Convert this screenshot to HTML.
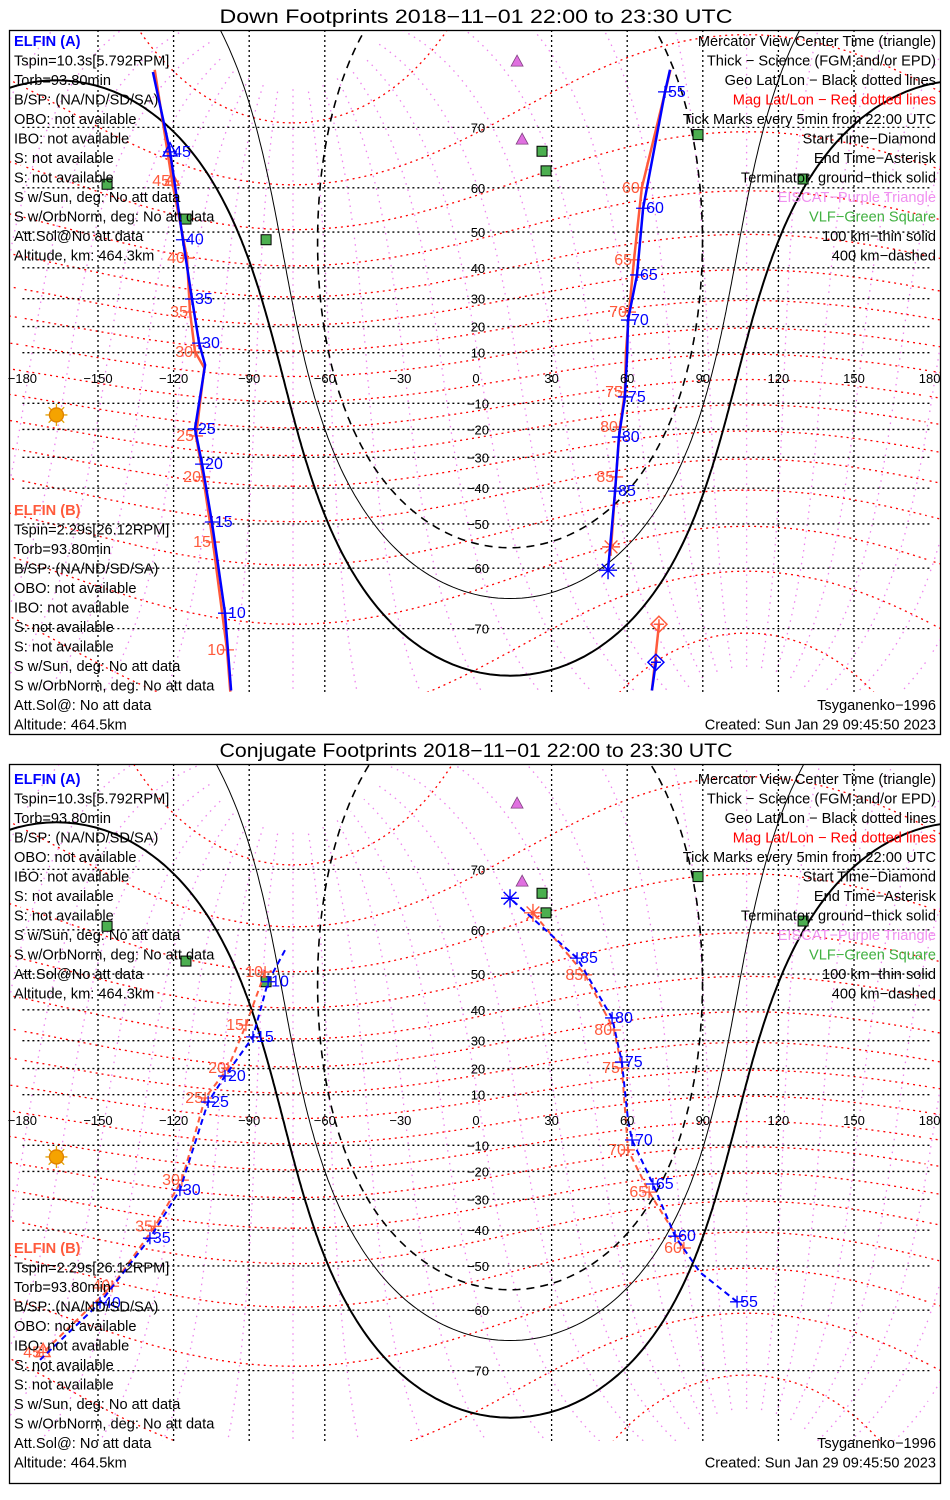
<!DOCTYPE html>
<html><head><meta charset="utf-8"><title>ELFIN Footprints</title>
<style>
html,body{margin:0;padding:0;background:#fff;overflow:hidden;width:950px;height:1500px;}
svg{display:block;font-family:"Liberation Sans",sans-serif;}
</style></head>
<body>
<svg id="chart" xmlns="http://www.w3.org/2000/svg" width="950" height="1500" viewBox="0 0 950 1500">
<defs>
<clipPath id="clip1"><rect x="10" y="31" width="930" height="661"/></clipPath>
<clipPath id="clip2"><rect x="10" y="765" width="930" height="676"/></clipPath>
</defs>
<rect x="0" y="0" width="950" height="1500" fill="#fff"/>
</svg>
<script>
// ---------- data ----------
const lonTicks = [-180,-150,-120,-90,-60,-30,0,30,60,90,120,150,180];
const lonGridLines = [-150,-120,-90,-60,30,60,90,120,150];
const latTicks = [70,60,50,40,30,20,10,-10,-20,-30,-40,-50,-60,-70];
const subSolarLon = -166.5;
const subSolarLat = -14.5;
const terminatorRadii = [90, 80, 70.2];   // ground, 100 km, 400 km
const magPoleLat = 80.6;
const magPoleLon = -72.6;
const magLatLines = [-80,-70,-60,-50,-40,-30,-20,-10,0,10,20,30,40,50,60,70,80];
const magLonLines = [0,15,30,45,60,75,90,105,120,135,150,165,180,195,210,225,240,255,270,285,300,315,330,345];
const vlfLon = [-146.4,-115.1,-83.3,26.2,27.8,88.1,129.8];
const vlfLat = [60.7,53.2,48.0,66.5,63.2,69.0,61.7];
const eiscatLon = [16.3,18.3];
const eiscatLat = [77.2,68.2];

// Down footprints, ELFIN A
const downALeftLon = [-97.2,-99.6,-104.8,-108.7,-111.5,-107.5,-109.9,-112.7,-116.3,-121.4,-128.2];
const downALeftLat = [-76.9,-67.8,-49.5,-32.3,-19.8,5.2,13.7,29.9,48.0,66.4,76.3];
const downALeftTicks = ["","10","15","20","25","","30","35","40","45",""];
const downARightLon = [77.0,75.0,66.3,63.9,60.3,60.0,59.1,56.7,55.2,52.4];
const downARightLat = [76.5,74.3,55.7,37.8,22.4,10,-7.5,-22.8,-40.9,-60.4];
const downARightTicks = ["","55","60","65","70","","75","80","85",""];
const downAStartLon = [71.4,69.8];
const downAStartLat = [-74.1,-76.9];
// Down footprints, ELFIN B
const downBLeftLon = [-97.5,-98.8,-104.4,-108.3,-111.1,-107.8,-111.5,-113.5,-114.7,-120.6,-127.5];
const downBLeftLat = [-77,-72.7,-54.4,-36.5,-22.4,4,10.3,25.3,42.9,61.3,76.5];
const downBLeftTicks = ["","10","15","20","25","","30","35","40","45",""];
const downBRightLon = [77.2,65.8,62.7,60.7,59.5,59.1,57.1,55.6,53.6];
const downBRightLat = [76.5,60,42.4,25.3,10,-5.5,-19.1,-36.5,-55.5];
const downBRightTicks = ["","60","65","70","","75","80","85",""];
const downBStartLon = [72.6,69.8];
const downBStartLat = [-69.4,-76.9];
// Conjugate footprints, ELFIN A
const conjALeftLon = [-75.8,-82.5,-88.5,-99.6,-106.3,-117.5,-129.4,-149.2,-173];
const conjALeftLat = [55.7,48.0,31.3,17.2,7.1,-26.8,-42.4,-58.5,-68.5];
const conjALeftTicks = ["","10","15","20","25","30","35","40",""];
const conjARightLon = [103.6,88.9,79.0,70.2,61.9,60.3,57.9,54.0,40.1,13.5];
const conjARightLat = [-58.3,-51.6,-41.8,-24.6,-7.9,0,22.4,37.5,53.9,65.7];
const conjARightTicks = ["55","","60","65","70","","75","80","85",""];
// Conjugate footprints, ELFIN B
const conjBLeftLon = [-83.7,-91.3,-98.4,-107.5,-116.7,-127.4,-144.4,-171.8];
const conjBLeftLat = [50.5,35.2,20.2,8.7,-23.2,-38.8,-54.9,-67.4];
const conjBLeftTicks = ["10","15","20","25","30","35","40","45"];
const conjBRightLon = [82.5,68.7,60.3,57.9,54.8,43.3,22.6];
const conjBRightLat = [-45.2,-27.5,-11.8,20.2,33.6,49.8,63.2];
const conjBRightTicks = ["60","65","70","75","80","85",""];

const legendA = ["Tspin=10.3s[5.792RPM]","Torb=93.80min","B/SP: (NA/ND/SD/SA)","OBO: not available","IBO: not available","S: not available","S: not available","S w/Sun, deg: No att data","S w/OrbNorm, deg: No att data","Att.Sol@No att data","Altitude, km: 464.3km"];
const legendB = ["Tspin=2.29s[26.12RPM]","Torb=93.80min","B/SP: (NA/ND/SD/SA)","OBO: not available","IBO: not available","S: not available","S: not available","S w/Sun, deg: No att data","S w/OrbNorm, deg: No att data","Att.Sol@: No att data","Altitude: 464.5km"];
const legendRight = ["Mercator View Center Time (triangle)","Thick \u2212 Science (FGM and/or EPD)","Geo Lat/Lon \u2212 Black dotted lines","Mag Lat/Lon \u2212 Red dotted lines","Tick Marks every 5min from 22:00 UTC","Start Time\u2212Diamond","End Time\u2212Asterisk","Terminator: ground\u2212thick solid","EISCAT\u2212Purple Triangle","VLF\u2212Green Square","100 km\u2212thin solid","400 km\u2212dashed"];
const legendRightColors = ["#000","#000","#000","#ff0000","#000","#000","#000","#000","#f090f0","#40b040","#000","#000"];

// ---------- helpers ----------
const NS = "http://www.w3.org/2000/svg";
const svg = document.getElementById("chart");
const RM = 144.4, SX = 2.52, X0 = 476;
const BLUE = "#0000ff", ORANGE = "#ff5a3c";
const LF = 14.6;
function px(lon){ return X0 + SX*lon; }
function py(lat, eq){ return eq - RM*Math.log(Math.tan(Math.PI/4 + lat*Math.PI/360)); }
function mk(tag, attrs, parent){
  const e = document.createElementNS(NS, tag);
  for (const k in attrs) e.setAttribute(k, attrs[k]);
  (parent||svg).appendChild(e);
  return e;
}
function txt(x, y, s, size, color, anchor, parent){
  const t = mk("text", {x:x, y:y, "font-size":size, fill:color, "text-anchor":anchor||"start"}, parent);
  t.textContent = s;
  return t;
}
function pathFrom(pts){ return pts.map((p,i)=>(i?"L":"M")+p[0].toFixed(1)+" "+p[1].toFixed(1)).join(""); }
// keep only runs of points inside a box (with margin) so nothing extends off-page
function boxedPath(pts, P){
  const x0=-30, x1=980, y0=P.top-40, y1=P.mapBot+40;
  let d="", pen=false;
  pts.forEach(p=>{
    const ok = p[0]>=x0 && p[0]<=x1 && p[1]>=y0 && p[1]<=y1 && isFinite(p[1]);
    if (ok){ d += (pen?"L":"M")+p[0].toFixed(1)+" "+p[1].toFixed(1); pen=true; }
    else pen=false;
  });
  return d;
}
function splitWrap(seq){
  const segs=[]; let cur=[];
  for (let i=0;i<seq.length;i++){
    if (i>0 && Math.abs(seq[i][0]-seq[i-1][0])>180){ segs.push(cur); cur=[]; }
    cur.push(seq[i]);
  }
  segs.push(cur); return segs;
}
function mag2geo(mlat, mlon){
  const a=mlat*Math.PI/180, b=mlon*Math.PI/180, th=(90-magPoleLat)*Math.PI/180, L=magPoleLon*Math.PI/180;
  const x=Math.cos(a)*Math.cos(b), y=Math.cos(a)*Math.sin(b), z=Math.sin(a);
  const x1=x*Math.cos(th)+z*Math.sin(th), y1=y, z1=-x*Math.sin(th)+z*Math.cos(th);
  const x2=x1*Math.cos(L)-y1*Math.sin(L), y2=x1*Math.sin(L)+y1*Math.cos(L);
  return [Math.atan2(y2,x2)*180/Math.PI, Math.asin(Math.max(-1,Math.min(1,z1)))*180/Math.PI];
}
function circlePts(cLon, cLat, r){
  const p1=cLat*Math.PI/180, l1=cLon*Math.PI/180, d=r*Math.PI/180, out=[];
  let prev=null;
  for (let az=0; az<=360; az+=1){
    const t=az*Math.PI/180;
    const p2=Math.asin(Math.sin(p1)*Math.cos(d)+Math.cos(p1)*Math.sin(d)*Math.cos(t));
    let l2=(l1+Math.atan2(Math.sin(t)*Math.sin(d)*Math.cos(p1), Math.cos(d)-Math.sin(p1)*Math.sin(p2)))*180/Math.PI;
    if (prev!==null){ while (l2-prev>180) l2-=360; while (l2-prev<-180) l2+=360; }
    prev=l2; out.push([l2, p2*180/Math.PI]);
  }
  return out;
}

function drawPanel(P){
  const eq=P.eq;
  const box = mk("rect",{x:9.5,y:P.top+0.5,width:931,height:P.bot-P.top,fill:"none",stroke:"#000","stroke-width":1.3});
  
  
  const title = txt(476, P.titleY, P.title, 19, "#000", "middle");
  title.setAttribute("textLength", 513);
  title.setAttribute("lengthAdjust", "spacingAndGlyphs");
  
  

  const map = mk("g",{"clip-path":"url(#"+P.clip+")"});
  
  

  const gml = mk("g",{fill:"none",stroke:"#ee82ee","stroke-width":1.3,"stroke-dasharray":"1.5 5"},map);
  
  
  magLonLines.forEach(ml=>{
    const seq=[]; for (let a=-84;a<=84;a+=1) seq.push(mag2geo(a,ml));
    splitWrap(seq).forEach(s=>[-360,0,360].forEach(sh=>{
      const d = boxedPath(s.map(q=>[px(q[0]+sh),py(q[1],eq)]), P);
      if (!d) return;
      const p = mk("path",{d:d},gml);
      
      
    }));
  });
  const gmr = mk("g",{fill:"none",stroke:"#ff0000","stroke-width":1.3,"stroke-dasharray":"2 4"},map);
  
  
  magLatLines.forEach(ma=>{
    const seq=[]; for (let b=0;b<=360;b+=2) seq.push(mag2geo(ma,b));
    splitWrap(seq).forEach(s=>[-360,0,360].forEach(sh=>{
      const d = boxedPath(s.map(q=>[px(q[0]+sh),py(q[1],eq)]), P);
      if (!d) return;
      const p = mk("path",{d:d},gmr);
      
      
    }));
  });
  const gg = mk("g",{fill:"none",stroke:"#000","stroke-width":1.3,"stroke-dasharray":"2 3"},map);
  
  
  lonGridLines.forEach(l=>{
    const ln = mk("line",{x1:px(l),x2:px(l),y1:P.top,y2:P.mapBot},gg);
    
    
  });
  latTicks.forEach(l=>{
    const ln = mk("line",{x1:px(-180),x2:px(180),y1:py(l,eq),y2:py(l,eq)},gg);
    
    
  });
  const antiLon=subSolarLon+180, antiLat=-subSolarLat;
  const tStyles=[{w:2,d:"none",n:"terminator-ground"},{w:1,d:"none",n:"terminator-100km"},{w:1.6,d:"8 6",n:"terminator-400km"}];
  terminatorRadii.forEach((r,i)=>{
    const pts=circlePts(antiLon,antiLat,r);
    [-720,-360,0,360].forEach(sh=>{
      const d = boxedPath(pts.map(q=>[px(q[0]+sh),py(q[1],eq)]), P);
      if (!d) return;
      const p = mk("path",{d:d,fill:"none",stroke:"#000","stroke-width":tStyles[i].w,"stroke-dasharray":tStyles[i].d},map);
      
      
    });
  });
  lonTicks.forEach(l=>{
    const t = txt(px(l), eq+5, String(l).replace("-","\u2212"), 13, "#000", "middle");
    
    
  });
  latTicks.forEach(l=>{
    const t = txt(px(0)+2, py(l,eq)+5, String(l).replace("-","\u2212"), 13, "#000", "middle");
    
    
  });
  vlfLon.forEach((l,i)=>{
    const x=px(l), y=py(vlfLat[i],eq);
    const r = mk("rect",{x:x-5,y:y-5,width:10,height:10,fill:"#4caf50",stroke:"#000","stroke-width":1},map);
    
    
  });
  eiscatLon.forEach((l,i)=>{
    const x=px(l), y=py(eiscatLat[i],eq);
    const t = mk("polygon",{points:(x)+","+(y-7)+" "+(x-6)+","+(y+4)+" "+(x+6)+","+(y+4),fill:"#e070e0",stroke:"#804080","stroke-width":0.8},map);
    
    
  });
  const sx=px(subSolarLon), sy=py(subSolarLat,eq);
  const sun = mk("g",{stroke:"#e0a000","stroke-width":1.3},map);
  
  
  for (let k=0;k<8;k++){ const a=k*Math.PI/4; mk("line",{x1:sx+7*Math.cos(a),y1:sy+7*Math.sin(a),x2:sx+11*Math.cos(a),y2:sy+11*Math.sin(a)},sun); }
  mk("circle",{cx:sx,cy:sy,r:7,fill:"#f5a300",stroke:"#e08000"},sun);

  P.tracks.forEach(T=>{
    const g = mk("g",{},map);
    
    
    const pts=T.lon.map((l,i)=>[px(l),py(T.lat[i],eq)]);
    const line = mk("path",{d:pathFrom(pts),fill:"none",stroke:T.color,"stroke-width":T.w,"stroke-dasharray":T.dash||"none"},g);
    
    
    (T.ticks||[]).forEach((lab,i)=>{
      if (!lab) return;
      const [x,y]=pts[i];
      const tk = mk("path",{d:"M"+(x-7)+" "+y+"L"+(x+7)+" "+y+"M"+x+" "+(y-6)+"L"+x+" "+(y+6),stroke:T.color,"stroke-width":1.3},g);
      
      
      const tl = T.labelSide>0 ? txt(x+3,y+5,lab,16,T.color,"start",g) : txt(x-2,y+5,lab,16,T.color,"end",g);
      
      
      if (lab===T.center){
        const tr = mk("polygon",{points:x+","+(y-9)+" "+(x-7)+","+(y+4)+" "+(x+7)+","+(y+4),fill:"none",stroke:T.color,"stroke-width":1.5},g);
        
        
      }
    });
    if (T.start){
      const [x,y]=pts[0];
      const d = mk("path",{d:"M"+x+" "+(y-8)+"L"+(x+8)+" "+y+"L"+x+" "+(y+8)+"L"+(x-8)+" "+y+"Z M"+(x-5)+" "+y+"L"+(x+5)+" "+y+"M"+x+" "+(y-5)+"L"+x+" "+(y+5),fill:"none",stroke:T.color,"stroke-width":1.5},g);
      
      
    }
    if (T.end){
      const [x,y]=pts[pts.length-1];
      let dd=""; for (let k=0;k<4;k++){ const a=k*Math.PI/4; dd+="M"+(x-9*Math.cos(a))+" "+(y-9*Math.sin(a))+"L"+(x+9*Math.cos(a))+" "+(y+9*Math.sin(a)); }
      const s = mk("path",{d:dd,stroke:T.color,"stroke-width":1.4},g);
      
      
    }
  });

  const lg = mk("g",{},svg);
  
  
  let t = txt(14, P.legY+5, "ELFIN (A)", LF, BLUE, "start", lg); t.setAttribute("font-weight","bold");
  
  
  legendA.forEach((s,i)=>{
    const e = txt(14, P.legY+5+19.5*(i+1), s, LF, "#000", "start", lg);
    
    
  });
  const by=P.legY+469;
  t = txt(14, by+5, "ELFIN (B)", LF, ORANGE, "start", lg); t.setAttribute("font-weight","bold");
  
  
  legendB.forEach((s,i)=>{
    const e = txt(14, by+5+19.5*(i+1), s, LF, "#000", "start", lg);
    
    
  });
  legendRight.forEach((s,i)=>{
    const e = txt(936, P.legY+5+19.5*i, s, LF, legendRightColors[i], "end", lg);
    
    
  });
  t = txt(936, by+5+19.5*10, "Tsyganenko\u22121996", LF, "#000", "end", lg);
  
  
  t = txt(936, by+5+19.5*11, "Created: Sun Jan 29 09:45:50 2023", LF, "#000", "end", lg);
  
  
}

drawPanel({id:"down-footprints", eq:378, top:30, bot:734, mapBot:692, clip:"clip1", titleY:23, legY:41,
  title:"Down Footprints 2018\u221211\u221201 22:00 to 23:30 UTC",
  tracks:[
    {name:"elfin-b-down-start",lon:downBStartLon,lat:downBStartLat,color:ORANGE,w:2.5,start:true},
    {name:"elfin-b-down-left",lon:downBLeftLon,lat:downBLeftLat,ticks:downBLeftTicks,color:ORANGE,w:2.5,labelSide:-1,center:"45"},
    {name:"elfin-b-down-right",lon:downBRightLon,lat:downBRightLat,ticks:downBRightTicks,color:ORANGE,w:2.5,labelSide:-1,end:true},
    {name:"elfin-a-down-start",lon:downAStartLon,lat:downAStartLat,color:BLUE,w:2.5,start:true},
    {name:"elfin-a-down-left",lon:downALeftLon,lat:downALeftLat,ticks:downALeftTicks,color:BLUE,w:2.5,labelSide:1,center:"45"},
    {name:"elfin-a-down-right",lon:downARightLon,lat:downARightLat,ticks:downARightTicks,color:BLUE,w:2.5,labelSide:1,end:true}
  ]});
drawPanel({id:"conjugate-footprints", eq:1120, top:764, bot:1483, mapBot:1441, clip:"clip2", titleY:757, legY:779,
  title:"Conjugate Footprints 2018\u221211\u221201 22:00 to 23:30 UTC",
  tracks:[
    {name:"elfin-b-conj-left",lon:conjBLeftLon,lat:conjBLeftLat,ticks:conjBLeftTicks,color:ORANGE,w:2,dash:"6 4",labelSide:-1,center:"45"},
    {name:"elfin-b-conj-right",lon:conjBRightLon,lat:conjBRightLat,ticks:conjBRightTicks,color:ORANGE,w:2,dash:"6 4",labelSide:-1,end:true},
    {name:"elfin-a-conj-left",lon:conjALeftLon,lat:conjALeftLat,ticks:conjALeftTicks,color:BLUE,w:2,dash:"6 4",labelSide:1},
    {name:"elfin-a-conj-right",lon:conjARightLon,lat:conjARightLat,ticks:conjARightTicks,color:BLUE,w:2,dash:"6 4",labelSide:1,end:true}
  ]});
</script>
</body></html>
